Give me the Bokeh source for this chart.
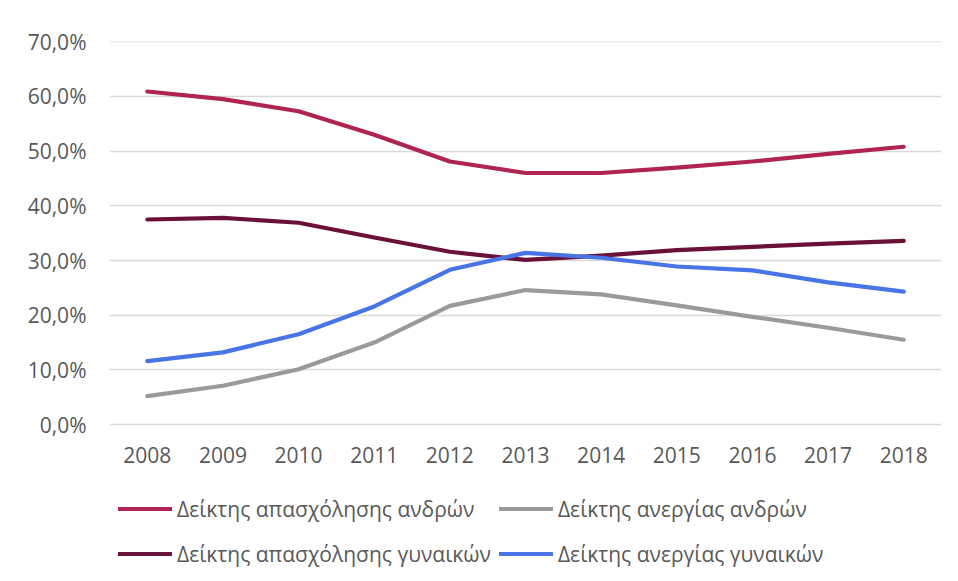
from bokeh.plotting import figure
from bokeh.models import Legend, LegendItem, FixedTicker, CustomJSTickFormatter
from bokeh.core.properties import value
from bokeh.embed import file_html
from bokeh.resources import INLINE

years = ["2008", "2009", "2010", "2011", "2012", "2013", "2014", "2015", "2016", "2017", "2018"]
emp_men = [60.9, 59.5, 57.3, 53.0, 48.1, 46.0, 46.0, 47.0, 48.1, 49.5, 50.8]
unemp_men = [5.2, 7.1, 10.1, 15.0, 21.7, 24.6, 23.8, 21.8, 19.7, 17.7, 15.5]
emp_women = [37.5, 37.8, 36.9, 34.2, 31.6, 30.1, 30.9, 31.9, 32.5, 33.1, 33.6]
unemp_women = [11.6, 13.2, 16.5, 21.6, 28.3, 31.4, 30.5, 28.9, 28.2, 26.0, 24.3]
y_ticks = [0, 10, 20, 30, 40, 50, 60, 70]

names = ["Δείκτης απασχόλησης ανδρών", "Δείκτης ανεργίας ανδρών",
         "Δείκτης απασχόλησης γυναικών", "Δείκτης ανεργίας γυναικών"]
colors = ["#B0254F", "#9A9A9A", "#6B1036", "#4874E6"]
series = [emp_men, unemp_men, emp_women, unemp_women]

FONT = "Open Sans"
TXT = "#595959"

# frame spans down to the bottom of the chart so the legend can sit inside it
p = figure(x_range=years, y_range=(-27.24, 70.05), frame_width=832, frame_height=532,
           output_backend="svg", toolbar_location=None,
           min_border_left=109, min_border_right=9, min_border_top=41, min_border_bottom=0)
p.outline_line_color = None
p.background_fill_color = "white"
p.border_fill_color = "white"

renderers = []
for vals, col in zip(series, colors):
    r = p.line(years, vals, line_color=col, line_width=4.2, line_cap="round", line_join="round")
    renderers.append(r)

p.yaxis.ticker = FixedTicker(ticks=y_ticks)
p.yaxis.formatter = CustomJSTickFormatter(code="return tick.toFixed(1).replace('.', ',') + '%';")
p.yaxis.axis_line_color = None
p.yaxis.major_tick_line_color = None
p.yaxis.minor_tick_line_color = None
p.yaxis.major_tick_out = 0
p.yaxis.major_label_standoff = 23
p.yaxis.major_label_text_font = FONT
p.yaxis.major_label_text_font_size = "21px"
p.yaxis.major_label_text_color = TXT

p.xaxis.visible = False
p.xgrid.grid_line_color = None
p.ygrid.grid_line_color = "#D9D9D9"
p.ygrid.grid_line_width = 1.5

# category labels under the 0% line
p.text(x=years, y=[0] * len(years), text=years, y_offset=30,
       text_align="center", text_baseline="middle",
       text_font=value(FONT), text_font_size="21px", text_color=TXT)

legend = Legend(items=[LegendItem(label=names[i], renderers=[renderers[i]]) for i in range(4)],
                location=(9, 1), orientation="horizontal", ncols=2,
                padding=0, margin=0, spacing=8,
                glyph_width=54, glyph_height=37, label_height=37, label_standoff=5,
                label_text_font=FONT, label_text_font_size="21px", label_text_color=TXT,
                border_line_color=None, background_fill_alpha=0)
p.add_layout(legend, "center")

open("out.html", "w").write(file_html(p, INLINE))
